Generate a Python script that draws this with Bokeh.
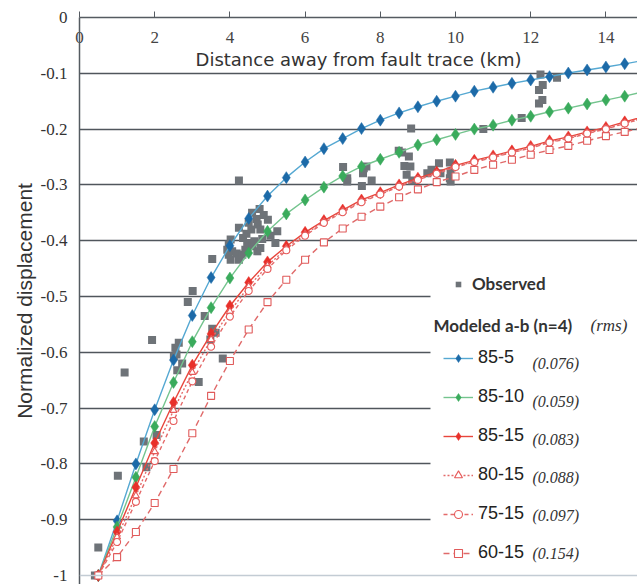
from bokeh.plotting import figure
from bokeh.models import (Range1d, FixedTicker, Legend, LegendItem, Label,
                          BoxAnnotation, Span, ColumnDataSource)
from bokeh.embed import file_html
from bokeh.resources import INLINE

# ---------------- data ----------------
model_x = [0.5, 1.0, 1.5, 2.0, 2.5, 3.0, 3.5, 4.0, 4.5, 5.0, 5.5, 6.0, 6.5, 7.0, 7.5,
           8.0, 8.5, 9.0, 9.5, 10.0, 10.5, 11.0, 11.5, 12.0, 12.5, 13.0, 13.5, 14.0, 14.5, 15.0]

m85_5 = [-1.0, -0.902, -0.80, -0.703, -0.614, -0.534, -0.466, -0.409, -0.36, -0.32, -0.287,
         -0.259, -0.235, -0.217, -0.199, -0.184, -0.171, -0.160, -0.150, -0.141, -0.132,
         -0.125, -0.118, -0.112, -0.106, -0.0995, -0.094, -0.0887, -0.083, -0.077]
m85_10 = [-1.0, -0.913, -0.824, -0.733, -0.654, -0.581, -0.520, -0.467, -0.422, -0.383, -0.352,
          -0.327, -0.304, -0.284, -0.267, -0.254, -0.2416, -0.2286, -0.219, -0.2095, -0.200,
          -0.193, -0.184, -0.177, -0.169, -0.1625, -0.155, -0.148, -0.141, -0.133]
m85_15 = [-1.0, -0.922, -0.842, -0.7625, -0.69, -0.623, -0.567, -0.517, -0.475, -0.438, -0.41,
          -0.385, -0.364, -0.345, -0.327, -0.314, -0.30, -0.288, -0.277, -0.265, -0.256,
          -0.248, -0.239, -0.231, -0.221, -0.214, -0.205, -0.197, -0.187, -0.178]
m80_15 = [-1.0, -0.931, -0.857, -0.778, -0.704, -0.636, -0.577, -0.527, -0.482, -0.445, -0.414,
          -0.388, -0.366, -0.347, -0.329, -0.316, -0.302, -0.290, -0.279, -0.267, -0.258,
          -0.250, -0.241, -0.233, -0.223, -0.216, -0.207, -0.199, -0.189, -0.180]
m75_15 = [-1.0, -0.940, -0.868, -0.795, -0.723, -0.652, -0.590, -0.536, -0.490, -0.4505, -0.417,
          -0.391, -0.368, -0.349, -0.331, -0.317, -0.303, -0.291, -0.280, -0.268, -0.259,
          -0.251, -0.242, -0.234, -0.224, -0.217, -0.208, -0.200, -0.190, -0.181]
m60_15 = [-1.0, -0.967, -0.922, -0.870, -0.809, -0.745, -0.678, -0.6155, -0.559, -0.510, -0.47,
          -0.434, -0.403, -0.378, -0.357, -0.339, -0.322, -0.308, -0.295, -0.285, -0.273,
          -0.264, -0.255, -0.246, -0.2375, -0.23, -0.221, -0.2125, -0.205, -0.197]

obs_x = [0.41, 0.50, 1.02, 1.20, 1.71, 1.78, 1.93, 2.05,
         2.51, 2.55, 2.58, 2.60, 2.64, 2.73, 2.88, 3.01, 3.17, 3.33, 3.48, 3.53, 3.62, 3.81,
         3.53, 3.93, 3.97, 3.97, 4.02, 4.02, 4.06, 4.18, 4.24, 4.24, 4.24, 4.33, 4.35, 4.41,
         4.44, 4.46, 4.50, 4.57, 4.59, 4.59, 4.65, 4.71, 4.73, 4.74, 4.79, 4.81, 4.81, 4.86,
         4.90, 5.01, 5.08, 5.21, 5.26,
         7.01, 7.12, 7.12, 7.51, 7.54, 7.56, 7.63, 7.77, 8.49, 8.58, 8.64, 8.70, 8.76, 8.80,
         8.82, 8.85, 9.25, 9.36, 9.56, 9.60, 9.85, 9.85, 9.87, 9.87,
         10.74, 11.76, 12.22, 12.22, 12.26, 12.31, 12.32, 12.70]
obs_y = [-1.0, -0.95, -0.821, -0.636, -0.76, -0.806, -0.578, -0.748,
         -0.607, -0.592, -0.604, -0.632, -0.583, -0.62, -0.51, -0.49, -0.653, -0.535, -0.577,
         -0.558, -0.565, -0.611,
         -0.433, -0.416, -0.407, -0.425, -0.398, -0.434, -0.419, -0.423, -0.377, -0.434, -0.292,
         -0.425, -0.395, -0.416, -0.3875, -0.404, -0.368, -0.38, -0.35, -0.41, -0.401, -0.361,
         -0.419, -0.371, -0.343, -0.38, -0.413, -0.397, -0.354, -0.3625, -0.391, -0.404, -0.383,
         -0.268, -0.288, -0.294, -0.302, -0.279, -0.270, -0.267, -0.292, -0.239, -0.242, -0.266,
         -0.282, -0.249, -0.267, -0.199, -0.292, -0.279, -0.273, -0.261, -0.279, -0.260, -0.288,
         -0.276, -0.294,
         -0.200, -0.180, -0.130, -0.154, -0.102, -0.148, -0.121, -0.108]

model_names = ["85-5", "85-10", "85-15", "80-15", "75-15", "60-15"]
model_rms = ["(0.076)", "(0.059)", "(0.083)", "(0.088)", "(0.097)", "(0.154)"]
x_ticks = [0, 2, 4, 6, 8, 10, 12, 14]
y_ticks = [0.0, -0.1, -0.2, -0.3, -0.4, -0.5, -0.6, -0.7, -0.8, -0.9, -1.0]
y_tick_labels = ["0", "-0.1", "-0.2", "-0.3", "-0.4", "-0.5", "-0.6", "-0.7", "-0.8", "-0.9", "-1"]

# ---------------- figure ----------------
p = figure(width=637, height=584, output_backend="svg", toolbar_location=None,
           x_range=Range1d(0, 14.84), y_range=Range1d(-1.0161, 0),
           x_axis_location="above",
           min_border_left=79, min_border_right=0, min_border_top=17, min_border_bottom=0)
p.outline_line_color = None
p.background_fill_color = "white"
p.border_fill_color = "white"

AXC = "#555b61"
p.xgrid.visible = False
p.ygrid.ticker = FixedTicker(ticks=y_ticks[:-1])
p.ygrid.grid_line_color = "#50565c"
p.ygrid.grid_line_width = 1.5

p.add_layout(Span(location=-1.0, dimension="width", line_color="#c3ccd4", line_width=1.5))

# y axis
ya = p.yaxis[0]
ya.ticker = FixedTicker(ticks=y_ticks)
ya.major_label_overrides = {t: s for t, s in zip(y_ticks, y_tick_labels)}
ya.major_tick_out = 0
ya.major_tick_in = 0
ya.minor_tick_out = 0
ya.minor_tick_in = 0
ya.major_label_standoff = 12
ya.major_label_text_font = "Liberation Serif"
ya.major_label_text_font_size = "17px"
ya.major_label_text_color = "#333333"
ya.axis_line_color = AXC
ya.axis_line_width = 1.5
ya.axis_label = "Normalized displacement"
ya.axis_label_text_font = "Liberation Sans"
ya.axis_label_text_font_size = "21px"
ya.axis_label_text_font_style = "normal"
ya.axis_label_text_color = "#333333"
ya.axis_label_standoff = 2

# x axis (top, labels drawn inside)
xa = p.xaxis[0]
xa.ticker = FixedTicker(ticks=x_ticks)
xa.major_tick_out = 6
xa.major_tick_in = 0
xa.minor_tick_out = 0
xa.minor_tick_in = 0
xa.major_tick_line_color = AXC
xa.major_label_standoff = -31
xa.major_label_text_font = "Liberation Serif"
xa.major_label_text_font_size = "17px"
xa.major_label_text_color = "#444444"
xa.axis_line_color = AXC
xa.axis_line_width = 1.5
xa.axis_label = "Distance away from fault trace (km)"
xa.axis_label_text_font = "DejaVu Sans"
xa.axis_label_text_font_size = "18px"
xa.axis_label_text_font_style = "normal"
xa.axis_label_text_color = "#333333"
xa.axis_label_standoff = -41

# ---------------- glyphs ----------------
obs_src = ColumnDataSource(dict(x=obs_x, y=obs_y))
obs_r = p.scatter("x", "y", source=obs_src, marker="square", size=8,
                  fill_color="#6e7378", line_color=None)

series = [
    (m85_5, "#55a8d2", None, "#1c6aa8", "diamond", 12, True),
    (m85_10, "#74c48e", None, "#3aab5c", "diamond", 12, True),
    (m85_15, "#e8463c", None, "#e8302a", "diamond", 12, True),
    (m80_15, "#e46a6a", "2 2", "#e65a5a", "triangle", 7, False),
    (m75_15, "#e46a6a", "4 3", "#e65a5a", "circle", 7, False),
    (m60_15, "#e06a6a", "6 4", "#e05a5a", "square", 7, False),
]
items = []
for (vals, lc, dash, mc, mk, sz, filled), name in zip(series, model_names):
    src = ColumnDataSource(dict(x=model_x, y=vals))
    lr = p.line("x", "y", source=src, line_color=lc, line_width=1.4,
                line_dash=dash if dash else "solid")
    if filled:
        sr = p.scatter("x", "y", source=src, marker=mk, size=sz,
                       fill_color=mc, line_color=mc, line_width=0.5)
    else:
        sr = p.scatter("x", "y", source=src, marker=mk, size=sz,
                       fill_color="white", line_color=mc, line_width=1.1)
    items.append(LegendItem(label=name, renderers=[lr, sr]))

# ---------------- legend area ----------------
p.add_layout(BoxAnnotation(left=351, right=570, bottom=13, top=322,
                           left_units="screen", right_units="screen",
                           bottom_units="screen", top_units="screen",
                           fill_color="white", fill_alpha=1.0, line_color=None))

leg_obs = Legend(items=[LegendItem(label="Observed", renderers=[obs_r])],
                 location=(372, 290), padding=0, margin=0, spacing=0,
                 glyph_width=14, glyph_height=20, label_height=20, label_standoff=7,
                 label_text_font="Lato", label_text_font_style="bold",
                 label_text_font_size="17px", label_text_color="#333333",
                 background_fill_alpha=0, border_line_color=None)
p.add_layout(leg_obs)

leg_mod = Legend(items=items, location=(364, 21), padding=0, margin=0, spacing=18,
                 glyph_width=30, glyph_height=20, label_height=20, label_standoff=5,
                 label_text_font="Liberation Sans", label_text_font_size="18px",
                 label_text_color="#222222",
                 background_fill_alpha=0, border_line_color=None)
p.add_layout(leg_mod)

p.add_layout(Label(x=354, y=259, x_units="screen", y_units="screen",
                   text="Modeled a-b (n=4)", text_font="Lato", text_font_style="bold",
                   text_font_size="17px", text_color="#333333", text_baseline="middle"))
p.add_layout(Label(x=511, y=259, x_units="screen", y_units="screen",
                   text="(rms)", text_font="Liberation Serif", text_font_style="italic",
                   text_font_size="17px", text_color="#333333", text_baseline="middle"))
rms_y = [221, 183, 145, 107, 69, 31]
for txt, yy in zip(model_rms, rms_y):
    p.add_layout(Label(x=453, y=yy, x_units="screen", y_units="screen", text=txt,
                       text_font="Liberation Serif", text_font_style="italic",
                       text_font_size="16px", text_color="#333333", text_baseline="middle"))

open("out.html", "w").write(file_html(p, INLINE))
